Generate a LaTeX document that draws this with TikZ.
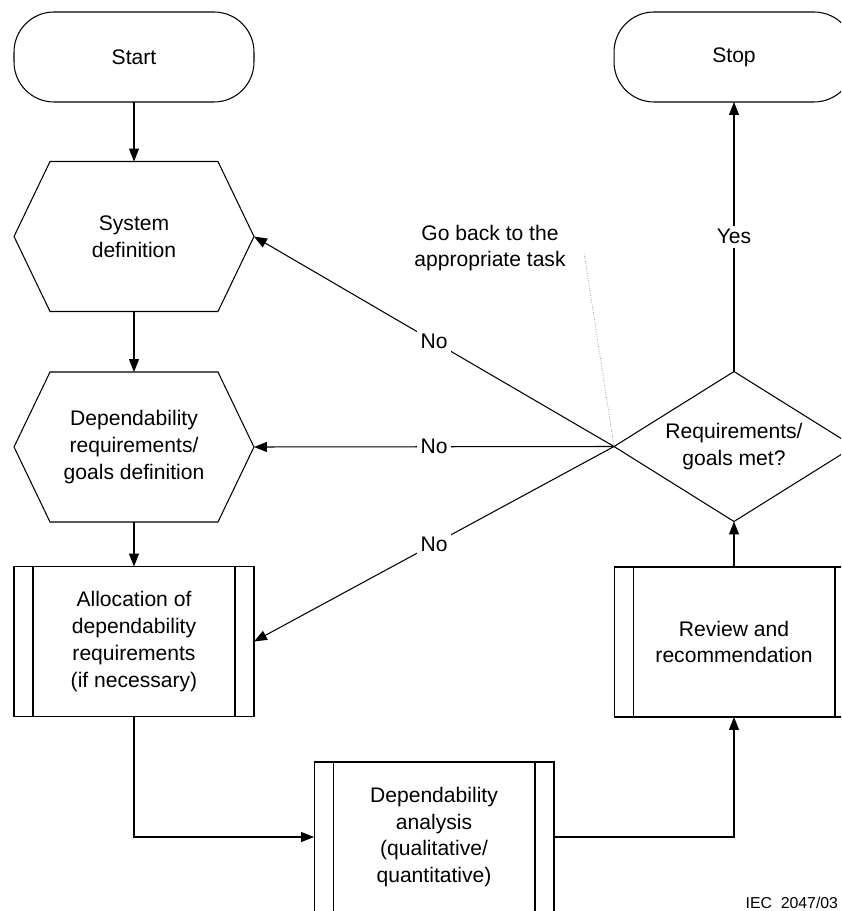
\documentclass[tikz,border=0pt]{standalone}
\usepackage{fontspec}
\setmainfont{Liberation Sans}
\usetikzlibrary{shapes.geometric,arrows.meta}

\begin{document}
\begin{tikzpicture}
        [x=0.02cm, y=-0.02cm, line width=0.6pt,
         every node/.style={font=\fontsize{12}{15.3}\selectfont, align=center, inner sep=0, outer sep=0},
         term/.style={draw, rectangle, rounded corners=0.8cm, minimum width=4.8cm, minimum height=1.8cm},
         hexa/.style={rectangle, minimum width=4.8cm, minimum height=3cm},
         proc/.style={draw, rectangle, minimum width=4.8cm, minimum height=3cm,
           path picture={
             \draw ([xshift=0.38cm]path picture bounding box.north west) -- ([xshift=0.38cm]path picture bounding box.south west);
             \draw ([xshift=-0.38cm]path picture bounding box.north east) -- ([xshift=-0.38cm]path picture bounding box.south east);}},
         cond/.style={draw, diamond, aspect=1.6, minimum width=4.8cm, minimum height=3cm},
         flow/.style={-{Triangle[length=0.26cm,width=0.2cm]}},
         lab/.style={fill=white, inner sep=2pt}]

        \useasboundingbox (0,0) rectangle (841,911);
        \clip (0,0) rectangle (841,911);

        \node[term] (start) at (134, 57) {Start};
        \node[hexa] (sysdef) at (134, 236.5) {System\\definition};
        \node[hexa] (depreq) at (134, 447) {Dependability\\requirements/\\goals definition};
        \node[proc] (alloc) at (134, 641.5) {Allocation of\\dependability\\requirements\\(if necessary)};
        \node[proc] (analysis) at (434, 837) {Dependability\\analysis\\(qualitative/\\quantitative)};
        \node[proc] (review) at (734, 642) {Review and\\recommendation};
        \node[cond] (goals) at (734, 446.5) {Requirements/\\goals met?};
        \node[term] (stop) at (734, 57) {\vphantom{Start}Stop};

        % hexagon outlines
        \foreach \n in {sysdef, depreq}
          \draw (\n.west) -- ([xshift=0.72cm]\n.north west) -- ([xshift=-0.72cm]\n.north east) -- (\n.east)
            -- ([xshift=-0.72cm]\n.south east) -- ([xshift=0.72cm]\n.south west) -- cycle;

        \draw[flow] (start) -- (sysdef);
        \draw[flow] (sysdef) -- (depreq);
        \draw[flow] (depreq) -- (alloc);
        \draw[flow] (alloc) |- (analysis);
        \draw[flow] (analysis) -| (review);
        \draw[flow] (review) -- (goals);
        \draw[flow] (goals) -- node[lab] {Yes} (stop);
        \draw[flow] (goals.west) -- node[lab] {No} (sysdef.east);
        \draw[flow] (goals.west) -- node[lab] {No} (depreq.east);
        \draw[flow] (goals.west) -- node[lab] {No} (alloc.east);

        \node (goback) at (490, 248) {Go back to the\\appropriate task};
        \coordinate (hint) at (584, 252);
        \draw[densely dotted, gray, line width=0.4pt] (goals.west) -- (hint);

        \node[anchor=south east, font=\fontsize{9}{10}\selectfont] (iec) at (838, 909) {IEC\ \ 2047/03};

      \end{tikzpicture}
\end{document}
